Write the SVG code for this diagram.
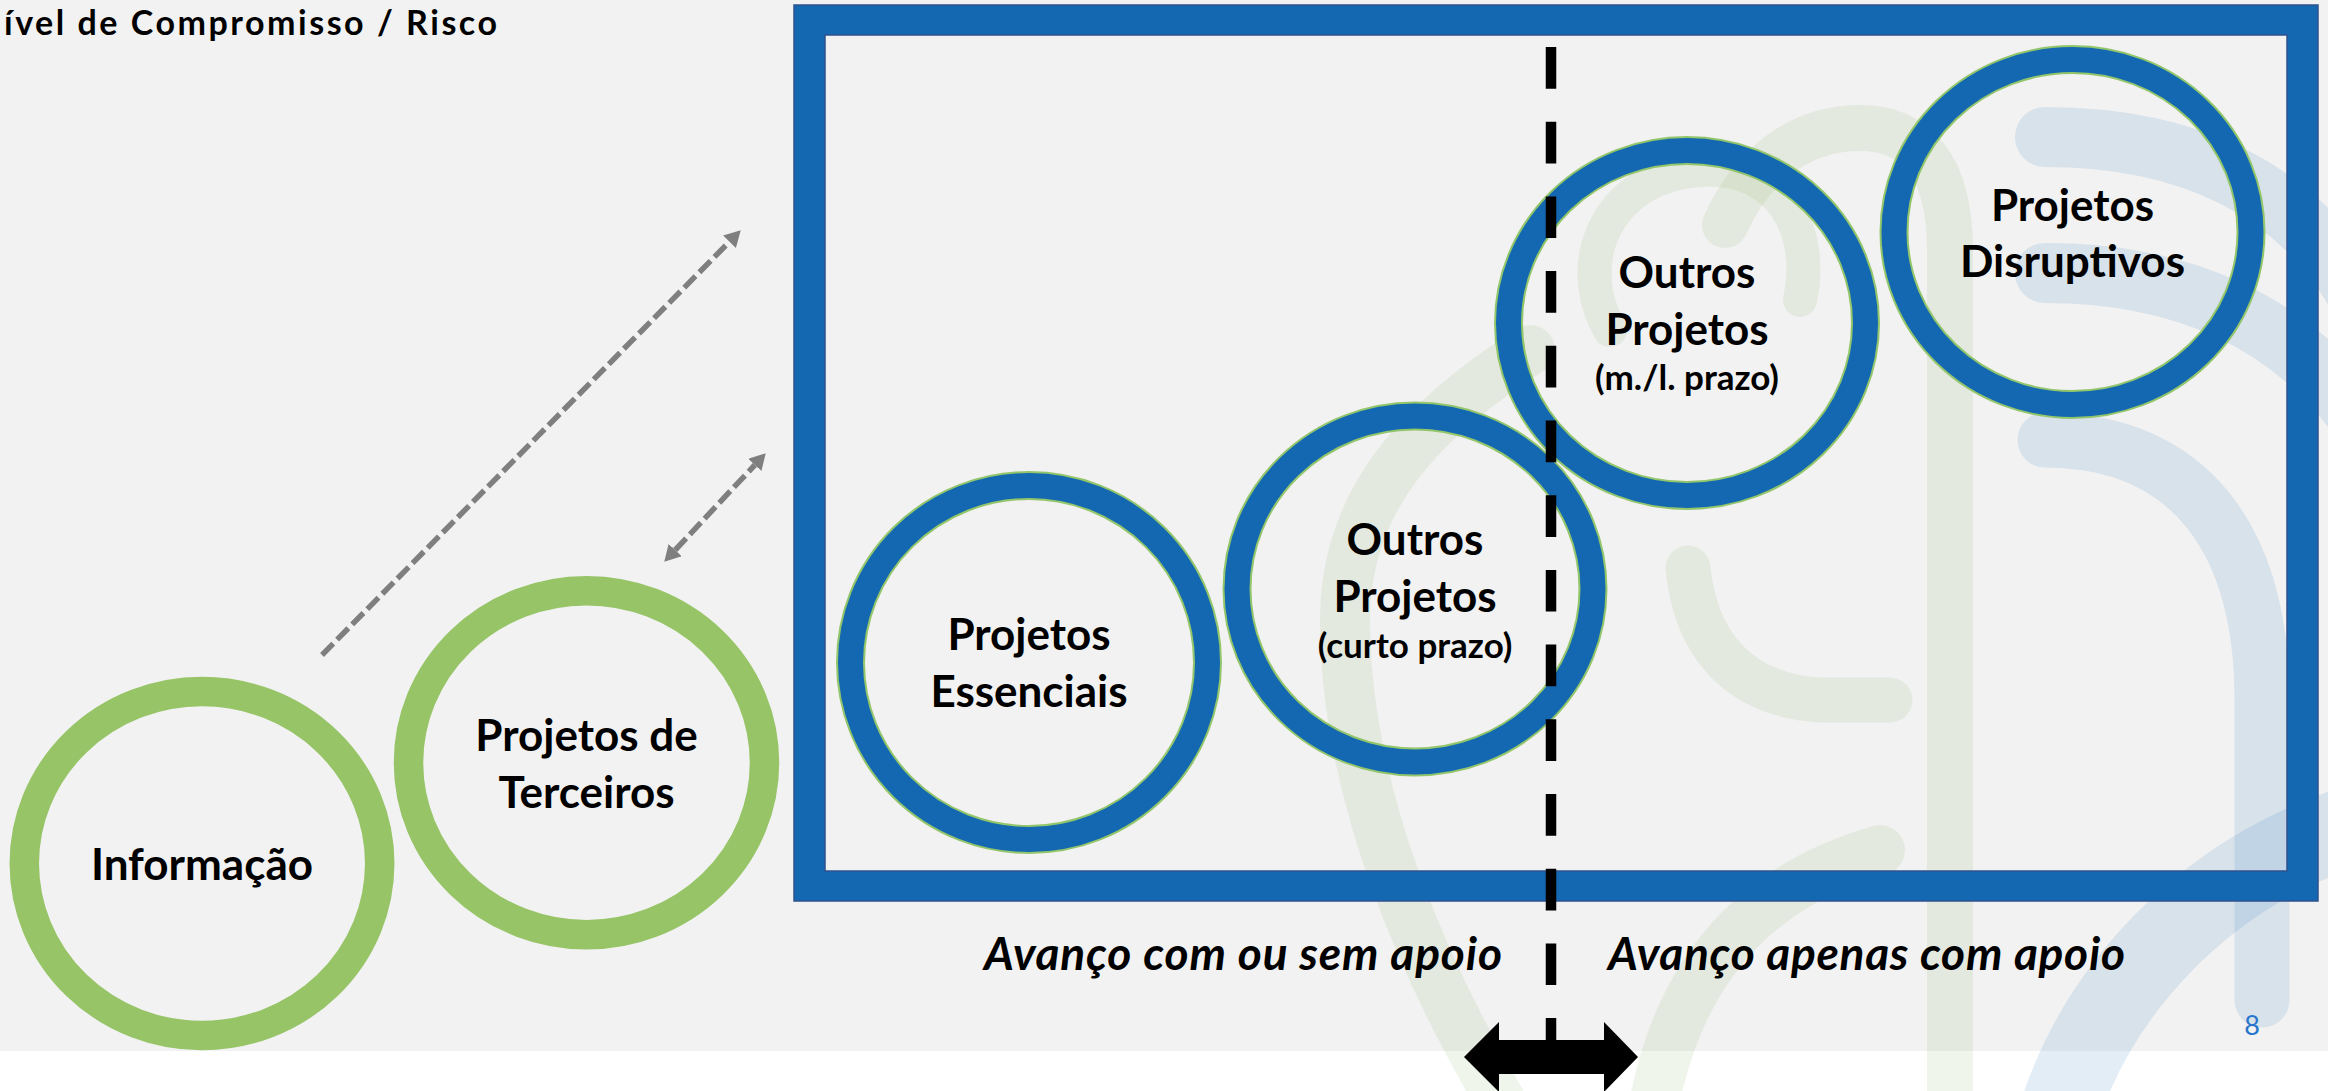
<svg xmlns="http://www.w3.org/2000/svg" width="2328" height="1091" viewBox="0 0 2328 1091">
<style>
.lbl{font-family:Lato,"Open Sans","Liberation Sans",sans-serif;font-weight:700;fill:#000;text-anchor:middle}
.big{font-size:44px}
.sm{font-size:35px}
.ital{font-family:Lato,"Open Sans","Liberation Sans",sans-serif;font-weight:700;font-style:italic;font-size:46px;fill:#000}
.ringg{fill:none;stroke:#96C466;stroke-width:29.5}
.ringb{fill:none;stroke:#1368B1;stroke-width:27}
.edge{fill:none;stroke:#93C66B;stroke-width:2}
.wmg{fill:none;stroke:#86AF5C;stroke-opacity:0.12;stroke-linecap:round}
.wmb{fill:none;stroke:#4587C3;stroke-opacity:0.15;stroke-linecap:round}
.gdash{fill:none;stroke:#7F7F7F;stroke-width:5.5;stroke-dasharray:16 5.5}
</style>
<defs>
<marker id="gh" viewBox="0 0 16 18" refX="0" refY="9" markerWidth="16" markerHeight="18" markerUnits="userSpaceOnUse" orient="auto-start-reverse">
<path d="M0,0 L16,9 L0,18 Z" fill="#7F7F7F"/>
</marker>
</defs>
<rect x="0" y="0" width="2328" height="1051" fill="#F2F2F2"/>
<rect x="0" y="1051" width="2328" height="40" fill="#FFFFFF"/>
<g id="watermark">
<path class="wmg" stroke-width="46" d="M1950,1100 L1950,250 C1950,165 1915,128 1860,128 C1800,128 1752,165 1725,225"/>
<path class="wmg" stroke-width="34" d="M1610,330 C1570,260 1610,175 1700,170 C1780,165 1815,230 1800,300"/>
<path class="wmg" stroke-width="50" d="M1500,1100 C1430,980 1345,800 1345,620 C1345,500 1420,420 1530,350"/>
<path class="wmg" stroke-width="45" d="M1688,568 C1695,640 1735,695 1820,700 L1890,700"/>
<path class="wmg" stroke-width="50" d="M1880,850 C1775,880 1685,950 1655,1100"/>
<path class="wmb" stroke-width="60" d="M2045,137 C2190,137 2300,190 2360,300"/>
<path class="wmb" stroke-width="60" d="M2045,273 C2180,273 2290,320 2360,420"/>
<path class="wmb" stroke-width="55" d="M2045,440 C2190,440 2262,540 2262,700 L2262,1000"/>
<path class="wmb" stroke-width="80" d="M2060,1110 C2100,990 2200,880 2340,830"/>
</g>
<text id="title" x="4" y="35" font-family="Lato,'Open Sans','Liberation Sans',sans-serif" font-weight="700" font-size="34" fill="#000" textLength="493">ível de Compromisso / Risco</text>
<g id="frame">
<path d="M794,5 H2318 V901 H794 Z M825,35 V871 H2287 V35 Z" fill="#1368B1" fill-rule="evenodd" stroke="#2F528F" stroke-width="1.5"/>
</g>
<g id="node-informacao" transform="translate(202,863.5)">
<ellipse class="ringg" rx="177.7" ry="172"/>
<text class="lbl big" x="0" y="16.5">Informação</text>
</g>
<g id="node-terceiros" transform="translate(586.5,762.7)">
<ellipse class="ringg" rx="178" ry="172"/>
<text class="lbl big" x="0" y="-11.7">Projetos de</text>
<text class="lbl big" x="0" y="45.3">Terceiros</text>
</g>
<g id="node-essenciais" transform="translate(1029,662.5)">
<ellipse class="ringb" rx="178.5" ry="177"/>
<ellipse class="edge" rx="192" ry="190.5"/>
<ellipse class="edge" rx="165" ry="163.5"/>
<text class="lbl big" x="0" y="-12.5">Projetos</text>
<text class="lbl big" x="0" y="44.5">Essenciais</text>
</g>
<g id="node-outros-curto" transform="translate(1415,589)">
<ellipse class="ringb" rx="178" ry="173"/>
<ellipse class="edge" rx="191.5" ry="186.5"/>
<ellipse class="edge" rx="164.5" ry="159.5"/>
<text class="lbl big" x="0" y="-34">Outros</text>
<text class="lbl big" x="0" y="23">Projetos</text>
<text class="lbl sm" x="0" y="69">(curto prazo)</text>
</g>
<g id="node-outros-ml" transform="translate(1687,323)">
<ellipse class="ringb" rx="178.5" ry="172.5"/>
<ellipse class="edge" rx="192" ry="186"/>
<ellipse class="edge" rx="165" ry="159"/>
<text class="lbl big" x="0" y="-35">Outros</text>
<text class="lbl big" x="0" y="22">Projetos</text>
<text class="lbl sm" x="0" y="67">(m./l. prazo)</text>
</g>
<g id="node-disruptivos" transform="translate(2072.5,232)">
<ellipse class="ringb" rx="178.5" ry="172.5"/>
<ellipse class="edge" rx="192" ry="186"/>
<ellipse class="edge" rx="165" ry="159"/>
<text class="lbl big" x="0" y="-11">Projetos</text>
<text class="lbl big" x="0" y="45">Disruptivos</text>
</g>
<g id="connectors">
<line class="gdash" x1="322" y1="655" x2="729.5" y2="241.7" marker-end="url(#gh)"/>
<line class="gdash" x1="675.2" y1="550" x2="754.8" y2="465" marker-start="url(#gh)" marker-end="url(#gh)"/>
</g>
<g id="divider">
<line x1="1551" y1="47" x2="1551" y2="1062" stroke="#000" stroke-width="10.5" stroke-dasharray="41.7 33"/>
<polygon points="1464,1057 1499,1022 1499,1040 1604,1040 1604,1022 1638,1057 1604,1092 1604,1074 1499,1074 1499,1092" fill="#000"/>
</g>
<g id="labels">
<text class="ital" x="984" y="970" textLength="518">Avanço com ou sem apoio</text>
<text class="ital" x="1608" y="970" textLength="517">Avanço apenas com apoio</text>
<text x="2252" y="1035" font-family="Lato,'Open Sans','Liberation Sans',sans-serif" font-size="27" fill="#2676CC" text-anchor="middle">8</text>
</g>
</svg>
